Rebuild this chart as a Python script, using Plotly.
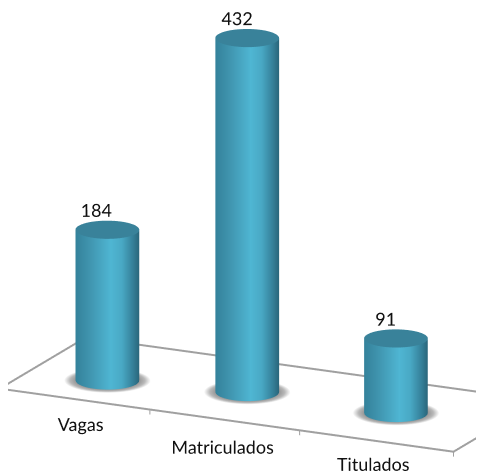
import numpy as np
import plotly.graph_objects as go

categories = ["Vagas", "Matriculados", "Titulados"]
values = [184, 432, 91]
bar_x = [0.504, 1.357, 2.343]
bar_y = [0.73, 0.98, 0.97]
tick_x = [0, 0.993, 1.983, 3]
value_label_x = [0.434, 1.287, 2.273]
cat_label_x = [0.532, 1.476, 2.467]
cat_label_z = [-32, -33.5, -29]

RADIUS_X = 0.19
RADIUS_Y = 0.318
Z_MIN = -60
Z_MAX = 500
FONT = "Lato"
AXIS_COLOR = "#a0a0a0"

side_scale = [[0, "#34829b"], [0.2, "#3f93ad"], [0.55, "#4fb6d3"],
              [0.72, "#49a9c5"], [0.9, "#357f98"], [1, "#2a667b"]]
shadow_scale = [[0, "#8f8f8f"], [0.55, "#b8b8b8"], [1, "#ffffff"]]
view_angle = np.radians(26)
flat = dict(ambient=1, diffuse=0, specular=0, fresnel=0)

fig = go.Figure()
theta = np.linspace(0, 2 * np.pi, 121)

for cx, cy, val in zip(bar_x, bar_y, values):
    # shadow ring on the floor
    rr = np.linspace(0.95, 1.36, 12)
    tt, rg = np.meshgrid(theta, rr)
    fig.add_trace(go.Surface(
        x=cx + RADIUS_X * rg * np.cos(tt), y=cy + RADIUS_Y * rg * np.sin(tt), z=np.zeros_like(tt),
        surfacecolor=rg, cmin=0.95, cmax=1.36, colorscale=shadow_scale, showscale=False,
        lighting=flat, hoverinfo="skip"))
    # cylinder wall, coloured by position across the visible width
    tt, zz = np.meshgrid(theta, np.array([0, val]))
    fig.add_trace(go.Surface(
        x=cx + RADIUS_X * np.cos(tt), y=cy + RADIUS_Y * np.sin(tt), z=zz,
        surfacecolor=np.cos(tt - view_angle), cmin=-1, cmax=1, colorscale=side_scale, showscale=False,
        lighting=flat, hoverinfo="skip"))
    # cap
    tt, rg = np.meshgrid(theta, np.array([0, 1]))
    fig.add_trace(go.Surface(
        x=cx + RADIUS_X * rg * np.cos(tt), y=cy + RADIUS_Y * rg * np.sin(tt), z=val + 0 * tt,
        surfacecolor=0 * tt, cmin=0, cmax=1, colorscale=[[0, "#39829a"], [1, "#39829a"]], showscale=False,
        lighting=flat, hoverinfo="skip"))

# floor outline
floor_x = [0, 3, 3, 0, 0]
floor_y = [0, 0, 2, 2, 0]
fig.add_trace(go.Scatter3d(x=floor_x, y=floor_y, z=[0] * 5, mode="lines",
                           line=dict(color=AXIS_COLOR, width=4), hoverinfo="skip"))
for t in tick_x:
    fig.add_trace(go.Scatter3d(x=[t, t], y=[0, 0], z=[0, -6], mode="lines",
                               line=dict(color=AXIS_COLOR, width=2), hoverinfo="skip"))

# value labels
fig.add_trace(go.Scatter3d(x=value_label_x, y=bar_y, z=[v + 22 for v in values], mode="text",
                           text=[str(v) for v in values], textposition="middle center",
                           textfont=dict(family=FONT, size=18, color="#111111"), hoverinfo="skip"))
# category labels
fig.add_trace(go.Scatter3d(x=cat_label_x, y=[0] * 3, z=cat_label_z, mode="text", text=categories,
                           textposition="middle center",
                           textfont=dict(family=FONT, size=18, color="#111111"), hoverinfo="skip"))

hidden = dict(visible=False, showgrid=False, zeroline=False, showticklabels=False, title="")
fig.update_layout(
    width=484, height=472, margin=dict(l=0, r=0, t=0, b=0), showlegend=False,
    paper_bgcolor="white",
    scene=dict(
        xaxis=dict(range=[0, 3], **hidden),
        yaxis=dict(range=[0, 2], **hidden),
        zaxis=dict(range=[Z_MIN, Z_MAX], **hidden),
        aspectmode="manual", aspectratio=dict(x=2.136, y=0.84, z=2.03),
        camera=dict(eye=dict(x=0.272, y=-0.755, z=0.108), up=dict(x=0, y=0, z=1),
                    center=dict(x=-0.076, y=-0.035, z=-0.132), projection=dict(type="orthographic")),
    ),
)

fig.write_html("out.html")
